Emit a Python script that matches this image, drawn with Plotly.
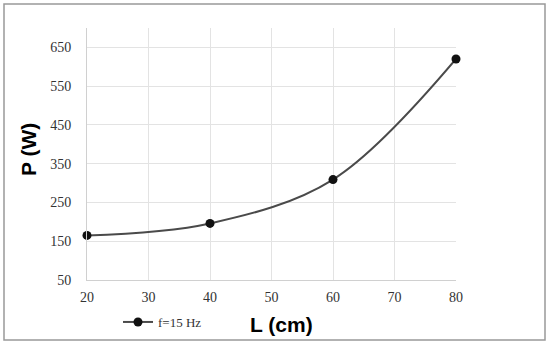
import plotly.graph_objects as go

L_cm = [20, 40, 60, 80]
P_W = [165, 196, 309, 620]
series_name = "f=15 Hz"
x_ticks = [20, 30, 40, 50, 60, 70, 80]
y_ticks = [50, 150, 250, 350, 450, 550, 650]

W, H = 550, 345
ml, mr, mt, mb = 87, 94, 28, 65
pw, ph = W - ml - mr, H - mt - mb

def px_x(p):
    return (p - ml) / pw

def px_y(p):
    return (H - mb - p) / ph

fig = go.Figure()
fig.add_trace(go.Scatter(
    x=L_cm, y=P_W, mode="lines+markers", name=series_name,
    line=dict(color="#4a4a4a", width=2, shape="spline", smoothing=1.0),
    marker=dict(color="#111111", size=9),
    cliponaxis=False,
))

fig.update_layout(
    width=W, height=H,
    margin=dict(l=ml, r=mr, t=mt, b=mb, autoexpand=False),
    paper_bgcolor="white", plot_bgcolor="white",
    showlegend=True,
    legend=dict(xref="container", yref="container",
                x=118 / W, y=1 - 322 / H, xanchor="left", yanchor="middle",
                font=dict(family="Liberation Serif", size=13, color="#333333"),
                bgcolor="rgba(0,0,0,0)", itemwidth=30),
    xaxis=dict(range=[20, 80], tickvals=x_ticks, showgrid=True, gridcolor="#e3e3e3",
               gridwidth=1, zeroline=False, showline=True, linecolor="#d0d0d0",
               tickfont=dict(family="Liberation Serif", size=14, color="#333333"),
               ticks="", ticklabelstandoff=4, automargin=False),
    yaxis=dict(range=[50, 700], tickvals=y_ticks, showgrid=True, gridcolor="#e3e3e3",
               gridwidth=1, zeroline=False, showline=True, linecolor="#d0d0d0",
               tickfont=dict(family="Liberation Serif", size=14, color="#333333"),
               ticks="", ticklabelstandoff=12, automargin=False),
    shapes=[dict(type="rect", xref="paper", yref="paper",
                 x0=px_x(4), x1=px_x(545), y0=px_y(340), y1=px_y(4),
                 line=dict(color="#999999", width=1.5), layer="below")],
    annotations=[
        dict(text="<b>L (cm)</b>", xref="paper", yref="paper",
             x=px_x(281), y=px_y(324), xanchor="center", yanchor="middle",
             showarrow=False,
             font=dict(family="Liberation Sans", size=21, color="black")),
        dict(text="<b>P (W)</b>", xref="paper", yref="paper",
             x=px_x(28), y=px_y(150), xanchor="center", yanchor="middle",
             showarrow=False, textangle=-90,
             font=dict(family="Liberation Sans", size=21, color="black")),
    ],
)

fig.write_html("out.html", config={"displayModeBar": False},
               post_script="document.body.style.margin='0';document.body.style.overflow='hidden';")
